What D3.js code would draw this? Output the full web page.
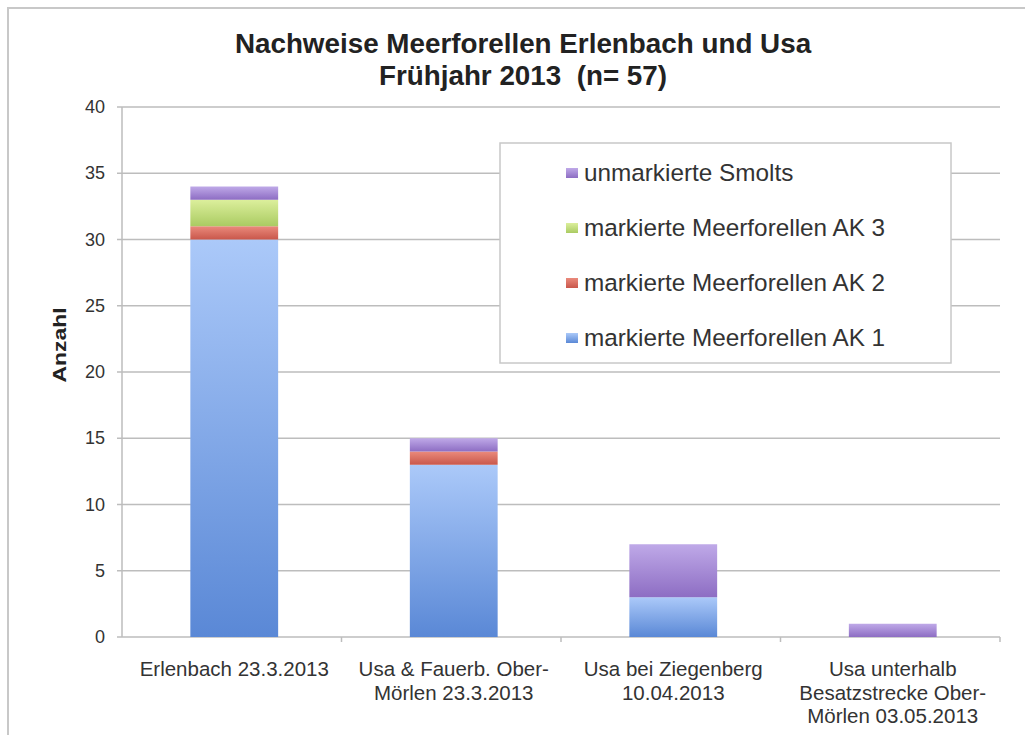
<!DOCTYPE html>
<html>
<head>
<meta charset="utf-8">
<script src="https://d3js.org/d3.v7.min.js"></script>
<style>
  body { margin: 0; background: #fff; }
  text { font-family: "Liberation Sans", Arial, sans-serif; white-space: pre; }
</style>
</head>
<body>
<div id="viz"></div>
<script>
var categories = [
  ["Erlenbach 23.3.2013"],
  ["Usa & Fauerb. Ober-", "Mörlen 23.3.2013"],
  ["Usa bei Ziegenberg", "10.04.2013"],
  ["Usa unterhalb", "Besatzstrecke Ober-", "Mörlen 03.05.2013"]
];
var seriesNames = [
  "markierte Meerforellen AK 1",
  "markierte Meerforellen AK 2",
  "markierte Meerforellen AK 3",
  "unmarkierte Smolts"
];
var ak1 = [30, 13, 3, 0];
var ak2 = [1, 1, 0, 0];
var ak3 = [2, 0, 0, 0];
var smolts = [1, 1, 4, 1];
var yTicks = [0, 5, 10, 15, 20, 25, 30, 35, 40];

var colors = [
  ["#abc9f9", "#5a88d6"],
  ["#ea8a7c", "#c9574b"],
  ["#dcef9c", "#aacb62"],
  ["#bfa9e8", "#8d6dc3"]
];

var width = 1025, height = 735;
var margin = {left: 122, right: 25, top: 107, bottom: 98};

var svg = d3.select("#viz").append("svg")
  .attr("width", width)
  .attr("height", height);

// outer frame
svg.append("rect")
  .attr("x", 8).attr("y", 8)
  .attr("width", width + 10).attr("height", height + 10)
  .attr("fill", "none").attr("stroke", "#c8c8c8").attr("stroke-width", 2);

var defs = svg.append("defs");
colors.forEach(function(c, i) {
  var g = defs.append("linearGradient")
    .attr("id", "grad" + i)
    .attr("x1", 0).attr("y1", 0).attr("x2", 0).attr("y2", 1);
  g.append("stop").attr("offset", "0%").attr("stop-color", c[0]);
  g.append("stop").attr("offset", "100%").attr("stop-color", c[1]);
});

var plotRight = width - margin.right;

var x = d3.scaleBand()
  .domain(d3.range(categories.length))
  .range([margin.left + 2.5, plotRight + 2.5])
  .paddingInner(0.6).paddingOuter(0.3);

var y = d3.scaleLinear()
  .domain([0, 40])
  .range([height - margin.bottom, margin.top]);

// gridlines
svg.append("g").selectAll("line")
  .data(yTicks)
  .enter().append("line")
    .attr("x1", margin.left - 5)
    .attr("x2", plotRight)
    .attr("y1", function(d) { return y(d); })
    .attr("y2", function(d) { return y(d); })
    .attr("stroke", "#bdbdbd")
    .attr("stroke-width", 1.5);

// y axis line
svg.append("line")
  .attr("x1", margin.left).attr("x2", margin.left)
  .attr("y1", y(40)).attr("y2", y(0))
  .attr("stroke", "#bdbdbd").attr("stroke-width", 1.5);

// y tick labels
svg.append("g").selectAll("text")
  .data(yTicks)
  .enter().append("text")
    .attr("x", margin.left - 17)
    .attr("y", function(d) { return y(d) + 6; })
    .attr("text-anchor", "end")
    .attr("font-size", 18)
    .attr("fill", "#333")
    .text(function(d) { return d; });

// x category ticks
var catW = (plotRight - margin.left) / categories.length;
svg.append("g").selectAll("line")
  .data(d3.range(1, categories.length + 1))
  .enter().append("line")
    .attr("x1", function(d) { return margin.left + catW * d; })
    .attr("x2", function(d) { return margin.left + catW * d; })
    .attr("y1", y(0)).attr("y2", y(0) + 5)
    .attr("stroke", "#bdbdbd").attr("stroke-width", 1.5);

// stacks
var table = categories.map(function(c, i) {
  return {i: i, s0: ak1[i], s1: ak2[i], s2: ak3[i], s3: smolts[i]};
});
var stack = d3.stack().keys(["s0", "s1", "s2", "s3"]);
var layers = stack(table);

svg.append("g").selectAll("g")
  .data(layers)
  .enter().append("g")
    .attr("fill", function(d, i) { return "url(#grad" + i + ")"; })
  .selectAll("rect")
  .data(function(d) { return d.filter(function(p) { return p[1] > p[0]; }); })
  .enter().append("rect")
    .attr("x", function(d) { return x(d.data.i); })
    .attr("width", x.bandwidth())
    .attr("y", function(d) { return y(d[1]); })
    .attr("height", function(d) { return y(d[0]) - y(d[1]); });

// x labels
var xl = svg.append("g").selectAll("text")
  .data(categories)
  .enter().append("text")
    .attr("text-anchor", "middle")
    .attr("font-size", 20.5)
    .attr("fill", "#333")
    .attr("x", function(d, i) { return x(i) + x.bandwidth() / 2; })
    .attr("y", y(0) + 39);
xl.selectAll("tspan")
  .data(function(d) { return d; })
  .enter().append("tspan")
    .attr("x", function() { return this.parentNode.getAttribute("x"); })
    .attr("dy", function(d, i) { return i === 0 ? 0 : 23.5; })
    .text(function(d) { return d; });

// y axis title
svg.append("text")
  .attr("transform", "translate(66," + ((y(0) + y(40)) / 2 - 27) + ") rotate(-90)")
  .attr("text-anchor", "middle")
  .attr("font-size", 18)
  .attr("font-weight", "bold")
  .attr("fill", "#222")
  .attr("textLength", 75)
  .attr("lengthAdjust", "spacingAndGlyphs")
  .text("Anzahl");

// title
var title = svg.append("text")
  .attr("text-anchor", "middle")
  .attr("font-size", 27.8)
  .attr("font-weight", "bold")
  .attr("fill", "#222")
  .attr("x", 523).attr("y", 53);
title.append("tspan").attr("x", 523).text("Nachweise Meerforellen Erlenbach und Usa");
title.append("tspan").attr("x", 523).attr("dy", 32).text("Frühjahr 2013  (n= 57)");

// legend
var legend = svg.append("g");
legend.append("rect")
  .attr("x", 500).attr("y", 143)
  .attr("width", 451).attr("height", 220)
  .attr("fill", "#fff")
  .attr("stroke", "#c8c8c8").attr("stroke-width", 1.5);

var legendOrder = [3, 2, 1, 0];
var items = legend.selectAll("g.item")
  .data(legendOrder)
  .enter().append("g")
    .attr("class", "item")
    .attr("transform", function(d, i) { return "translate(566," + (173 + i * 55) + ")"; });
items.append("rect")
  .attr("x", 0).attr("y", -5)
  .attr("width", 12).attr("height", 10)
  .attr("fill", function(d) { return "url(#grad" + d + ")"; });
items.append("text")
  .attr("x", 18).attr("y", 8)
  .attr("font-size", 24.3)
  .attr("fill", "#333")
  .text(function(d) { return seriesNames[d]; });
</script>
</body>
</html>
